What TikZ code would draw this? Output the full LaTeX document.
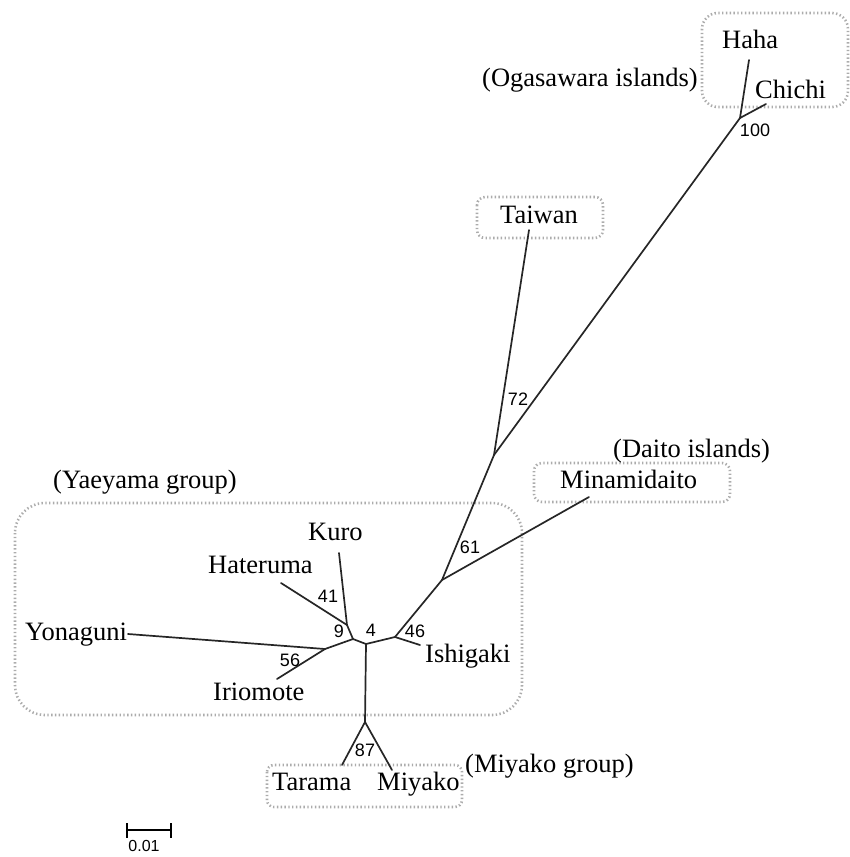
\documentclass[tikz,border=0pt]{standalone}
\usepackage{fontspec}
\setmainfont{Liberation Serif}
\newfontfamily\numfont{Liberation Sans}
\begin{document}
\begin{tikzpicture}[x=1pt,y=-1pt,
  branch/.style={line width=1.7pt, black!85, line cap=round},
  grp/.style={draw=gray!65, line width=2.6pt, dash pattern=on 1.4pt off 2.4pt},
  taxon/.style={font=\fontsize{26.5}{30}\selectfont, inner sep=0pt, anchor=base west},
  boot/.style={font=\numfont\fontsize{18}{20}\selectfont, inner sep=0pt},
]
\useasboundingbox (0,0) rectangle (849,857);
% group boxes
\draw[grp, rounded corners=16pt] (702,13) rectangle (848,107);
\draw[grp, rounded corners=8pt] (477,197) rectangle (603,238);
\draw[grp, rounded corners=8pt] (534,463) rectangle (730,502);
\draw[grp, rounded corners=30pt] (15,503) rectangle (522,715);
\draw[grp, rounded corners=7pt] (267,765) rectangle (462,807);

% internal nodes
\coordinate (nOga) at (740,118);
\coordinate (nTai) at (494,455);
\coordinate (nMin) at (442,580);
\coordinate (nIsh) at (395,637);
\coordinate (nW) at (366,644);
\coordinate (nU) at (353,639);
\coordinate (nKH) at (347,625);
\coordinate (nYI) at (325,649);
\coordinate (nMiy) at (365,722);
% tips
\coordinate (tHaha) at (749,60);
\coordinate (tChichi) at (766,104);
\coordinate (tTaiwan) at (529,230);
\coordinate (tMinami) at (589,497);
\coordinate (tIshigaki) at (420,645);
\coordinate (tKuro) at (339,553);
\coordinate (tHateruma) at (281,583);
\coordinate (tYonaguni) at (128,634);
\coordinate (tIriomote) at (277,679);
\coordinate (tTarama) at (342,765);
\coordinate (tMiyako) at (392,770);

% branches
\draw[branch] (nOga) -- (tHaha);
\draw[branch] (nOga) -- (tChichi);
\draw[branch] (nOga) -- (nTai);
\draw[branch] (nTai) -- (tTaiwan);
\draw[branch] (nTai) -- (nMin);
\draw[branch] (nMin) -- (tMinami);
\draw[branch] (nMin) -- (nIsh);
\draw[branch] (nIsh) -- (tIshigaki);
\draw[branch] (nIsh) -- (nW);
\draw[branch] (nW) -- (nMiy);
\draw[branch] (nMiy) -- (tTarama);
\draw[branch] (nMiy) -- (tMiyako);
\draw[branch] (nW) -- (nU);
\draw[branch] (nU) -- (nKH);
\draw[branch] (nKH) -- (tKuro);
\draw[branch] (nKH) -- (tHateruma);
\draw[branch] (nU) -- (nYI);
\draw[branch] (nYI) -- (tYonaguni);
\draw[branch] (nYI) -- (tIriomote);

% taxon labels
\node[taxon] (Haha) at (722,48) {Haha};
\node[taxon] (Chichi) at (755,98) {Chichi};
\node[taxon] (Taiwan) at (500,223) {Taiwan};
\node[taxon] (Minamidaito) at (560,488) {Minamidaito};
\node[taxon] (Ishigaki) at (425,662) {Ishigaki};
\node[taxon] (Kuro) at (308,540) {Kuro};
\node[taxon] (Hateruma) at (208,573) {Hateruma};
\node[taxon] (Yonaguni) at (25,640) {Yonaguni};
\node[taxon] (Iriomote) at (213,700) {Iriomote};
\node[taxon] (Tarama) at (272,790) {Tarama};
\node[taxon] (Miyako) at (377,790) {Miyako};

% group labels
\node[taxon] (gOga) at (482,86) {(Ogasawara islands)};
\node[taxon] (gDaito) at (613,457) {(Daito islands)};
\node[taxon] (gYae) at (53,488) {(Yaeyama group)};
\node[taxon] (gMiy) at (465,772) {(Miyako group)};

% bootstrap values
\node[boot] (b100) at (755,130) {100};
\node[boot] (b72) at (518,399) {72};
\node[boot] (b61) at (470,547) {61};
\node[boot] (b46) at (415,631) {46};
\node[boot] (b4) at (371,630) {4};
\node[boot] (b9) at (339,631) {9};
\node[boot] (b41) at (328,596) {41};
\node[boot] (b56) at (290,660) {56};
\node[boot] (b87) at (365,750) {87};

% scale bar
\coordinate (sL) at (127,830);
\coordinate (sR) at (171,830);
\draw[line width=1.5pt] (sL) -- (sR);
\draw[line width=1.5pt] ([yshift=-7.5pt]sL) -- ([yshift=7.5pt]sL);
\draw[line width=1.5pt] ([yshift=-7.5pt]sR) -- ([yshift=7.5pt]sR);
\node[font=\numfont\fontsize{16}{18}\selectfont, inner sep=0pt] (scale) at (144,846) {0.01};
\end{tikzpicture}
\end{document}
